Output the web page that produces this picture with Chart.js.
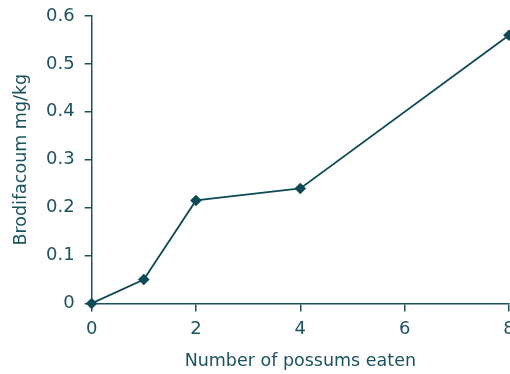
<!DOCTYPE html>
<html>
<head>
<meta charset="utf-8">
<script src="https://cdn.jsdelivr.net/npm/chart.js@4"></script>
<style>
  html, body { margin: 0; padding: 0; background: #fff; overflow: hidden; }
  #wrap { width: 520px; height: 374px; }
</style>
</head>
<body>
<div id="wrap"><canvas id="c" width="520" height="374"></canvas></div>
<script>
// Brodifacoum residue against number of possums eaten
const possumsEaten = [0, 1, 2, 4, 8];
const brodifacoum = [0, 0.05, 0.215, 0.24, 0.56];
const xTicks = [0, 2, 4, 6, 8];
const yTicks = [0, 0.1, 0.2, 0.3, 0.4, 0.5, 0.6];

const ink = '#1b5361';
const lineInk = '#0f4b56';
const font = 'DejaVu Sans';

// the outer padding alone sets the plot edges; end labels may overhang
const noEdgePadding = s => { s.paddingTop = 0; s.paddingBottom = 0; s.paddingLeft = 0; s.paddingRight = 0; };

new Chart(document.getElementById('c'), {
  type: 'line',
  data: {
    datasets: [{
      data: possumsEaten.map((x, i) => ({ x, y: brodifacoum[i] })),
      borderColor: lineInk,
      backgroundColor: lineInk,
      borderWidth: 1.8,
      pointStyle: 'rectRot',
      pointRadius: 4.5,
      pointHoverRadius: 4.5,
      tension: 0,
      clip: false
    }]
  },
  options: {
    responsive: false,
    animation: false,
    events: [],
    layout: { padding: { left: 11, right: 11, top: 16, bottom: 2 } },
    plugins: { legend: { display: false }, tooltip: { enabled: false } },
    scales: {
      x: {
        type: 'linear',
        min: 0, max: 8,
        afterBuildTicks: s => { s.ticks = xTicks.map(v => ({ value: v })); },
        afterFit: noEdgePadding,
        grid: { display: true, drawOnChartArea: false, drawTicks: true, tickLength: 8, color: ink, lineWidth: 1.5 },
        border: { display: true, color: ink, width: 1.5 },
        ticks: { color: ink, font: { family: font, size: 18 }, padding: 7, maxRotation: 0 },
        title: { display: true, text: 'Number of possums eaten', color: ink, font: { family: font, size: 17.5 }, padding: { top: 4, bottom: 0 } }
      },
      y: {
        min: 0, max: 0.6,
        afterBuildTicks: s => { s.ticks = yTicks.map(v => ({ value: v })); },
        afterFit: noEdgePadding,
        grid: { display: true, drawOnChartArea: false, drawTicks: true, tickLength: 7, color: ink, lineWidth: 1.5 },
        border: { display: true, color: ink, width: 1.5 },
        ticks: { color: ink, font: { family: font, size: 18 }, padding: 10, callback: v => String(+v.toFixed(1)) },
        title: { display: true, text: 'Brodifacoum mg/kg', color: ink, font: { family: font, size: 17.5 }, padding: { top: 0, bottom: 4 } }
      }
    }
  }
});
</script>
</body>
</html>
